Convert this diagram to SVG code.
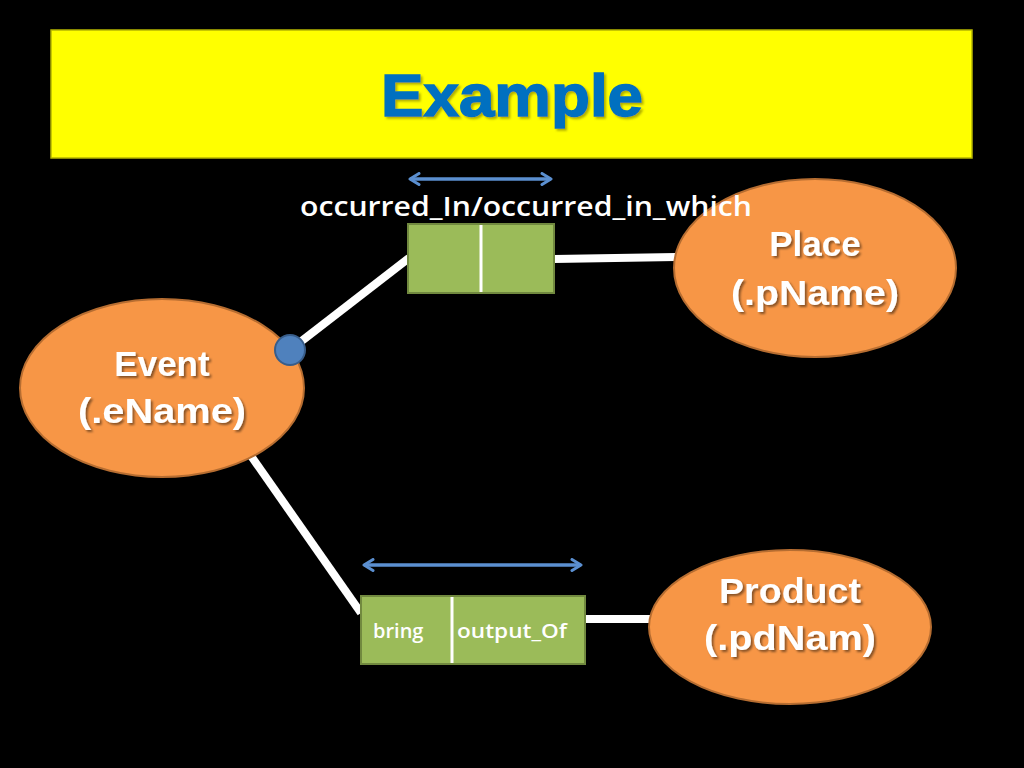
<svg xmlns="http://www.w3.org/2000/svg" width="1024" height="768" viewBox="0 0 1024 768">
<defs>
<filter id="sh" x="-10%" y="-10%" width="130%" height="140%"><feDropShadow dx="2" dy="2" stdDeviation="1" flood-color="#000" flood-opacity="0.45"/></filter>
<filter id="sh2" x="-10%" y="-10%" width="130%" height="140%"><feDropShadow dx="2" dy="2" stdDeviation="1" flood-color="#7a7a00" flood-opacity="0.6"/></filter>
<marker id="ah" viewBox="0 0 14 14" refX="11" refY="7" markerWidth="14" markerHeight="14" markerUnits="userSpaceOnUse" orient="auto-start-reverse">
<path d="M2,1.5 L11,7 L2,12.5" fill="none" stroke="#5B8FD0" stroke-width="3" stroke-linecap="round" stroke-linejoin="round"/>
</marker>
</defs>
<style>
.ell{fill:#F79646;stroke:#B66D31;stroke-width:2}
.box{fill:#9BBB59;stroke:#71893F;stroke-width:2}
.div{stroke:#FFFFFF;stroke-width:3}
.con{stroke:#FFFFFF;stroke-width:8;fill:none}
.arr{stroke:#5B8FD0;stroke-width:3.5;fill:none}
.nt{font-family:"Liberation Sans",Arial,sans-serif;font-weight:bold;font-size:35px;fill:#FFFFFF;text-anchor:middle}
.lt{font-family:"Open Sans","Liberation Sans",sans-serif;font-weight:600;font-size:20px;fill:#FFFFFF}
</style>
<rect width="1024" height="768" fill="#000000"/>
<g id="title">
<rect x="51" y="30" width="921" height="128" fill="#FFFF00" stroke="#B5B500" stroke-width="1.5"/>
<text x="512" y="116" font-family="Liberation Sans,Arial,sans-serif" font-weight="bold" font-size="60" fill="#0070C0" stroke="#0070C0" stroke-width="1.5" text-anchor="middle" textLength="262" lengthAdjust="spacingAndGlyphs" filter="url(#sh2)">Example</text>
</g>
<g id="connectors">
<line class="con" x1="290" y1="350" x2="409" y2="258"/>
<line class="con" x1="554" y1="259" x2="676" y2="257"/>
<line class="con" x1="249" y1="453" x2="361" y2="613"/>
<line class="con" x1="585" y1="619" x2="651" y2="619"/>
<line class="arr" x1="410" y1="179" x2="551" y2="179" marker-start="url(#ah)" marker-end="url(#ah)"/>
<line class="arr" x1="364" y1="565" x2="581" y2="565" marker-start="url(#ah)" marker-end="url(#ah)"/>
</g>
<g id="place">
<ellipse class="ell" cx="815" cy="268" rx="141" ry="89"/>
<text class="nt" x="815" y="256" filter="url(#sh)">Place</text>
<text class="nt" x="815" y="305" textLength="168" lengthAdjust="spacingAndGlyphs" filter="url(#sh)">(.pName)</text>
</g>
<g id="event">
<ellipse class="ell" cx="162" cy="388" rx="142" ry="89"/>
<text class="nt" x="162" y="376" filter="url(#sh)">Event</text>
<text class="nt" x="162" y="423" textLength="168" lengthAdjust="spacingAndGlyphs" filter="url(#sh)">(.eName)</text>
</g>
<g id="product">
<ellipse class="ell" cx="790" cy="627" rx="141" ry="77"/>
<text class="nt" x="790" y="603" textLength="142" lengthAdjust="spacingAndGlyphs" filter="url(#sh)">Product</text>
<text class="nt" x="790" y="650" textLength="172" lengthAdjust="spacingAndGlyphs" filter="url(#sh)">(.pdNam)</text>
</g>
<g id="dot">
<circle cx="290" cy="350" r="15" fill="#4F81BD" stroke="#385D8A" stroke-width="2"/>
</g>
<g id="rel-occurred">
<rect class="box" x="408" y="224" width="146" height="69"/>
<line class="div" x1="481" y1="225" x2="481" y2="292"/>
<text x="526" y="216" font-family="Open Sans,Liberation Sans,sans-serif" font-weight="600" font-size="27" fill="#FFFFFF" text-anchor="middle" textLength="452" lengthAdjust="spacingAndGlyphs">occurred_In/occurred_in_which</text>
</g>
<g id="rel-bring">
<rect class="box" x="361" y="596" width="224" height="68"/>
<line class="div" x1="452" y1="597" x2="452" y2="663"/>
<text class="lt" x="373" y="638">bring</text>
<text class="lt" x="457" y="638" textLength="110" lengthAdjust="spacingAndGlyphs">output_Of</text>
</g>
</svg>
